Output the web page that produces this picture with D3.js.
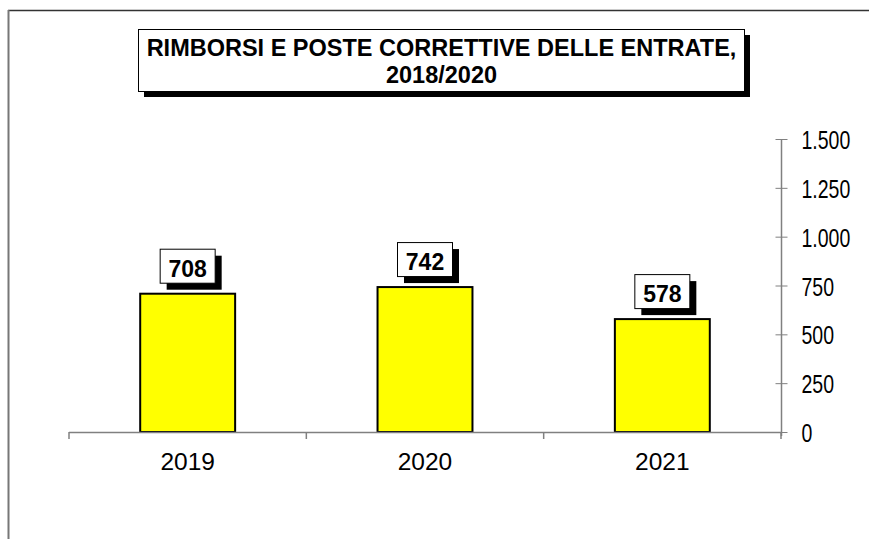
<!DOCTYPE html>
<html>
<head>
<meta charset="utf-8">
<script src="https://cdn.jsdelivr.net/npm/d3@7"></script>
<style>
  body { margin: 0; background: #fff; }
  svg { display: block; font-family: Arial, "Liberation Sans", sans-serif; }
</style>
</head>
<body>
<div id="vis"></div>
<script>
// chart data
var years = ['2019', '2020', '2021'];
var values = [708, 742, 578];
var yTicks = [0, 250, 500, 750, 1000, 1250, 1500];
var titleLines = ['RIMBORSI E POSTE CORRETTIVE DELLE ENTRATE,', '2018/2020'];

var width = 869, height = 539;

var svg = d3.select('#vis').append('svg')
  .attr('width', width)
  .attr('height', height);

// outer frame (top + left only visible)
svg.append('line').attr('x1', 8).attr('y1', 10.5).attr('x2', width).attr('y2', 10.5)
  .attr('stroke', '#333').attr('stroke-width', 1.5);
svg.append('line').attr('x1', 8.5).attr('y1', 10).attr('x2', 8.5).attr('y2', height)
  .attr('stroke', '#777').attr('stroke-width', 2);

var x = d3.scaleBand().domain(years).range([69, 781]).paddingInner(0).paddingOuter(0);
var y = d3.scaleLinear().domain([0, 1500]).range([432, 139]);

// bars
var barW = x.bandwidth() * 0.4;
svg.selectAll('.bar').data(values).enter().append('rect')
  .attr('class', 'bar')
  .attr('x', function (d, i) { return x(years[i]) + (x.bandwidth() - barW) / 2; })
  .attr('y', function (d) { return y(d); })
  .attr('width', barW)
  .attr('height', function (d) { return y(0) - y(d); })
  .attr('fill', '#ffff00')
  .attr('stroke', '#000')
  .attr('stroke-width', 2);

// x axis
svg.append('line').attr('x1', 69).attr('x2', 781).attr('y1', 432.5).attr('y2', 432.5)
  .attr('stroke', '#808080').attr('stroke-width', 1.5);
var xTickPos = years.map(function (d) { return x(d); }).concat([x.range()[1]]);
svg.selectAll('.xtick').data(xTickPos).enter().append('line')
  .attr('x1', function (d) { return d; }).attr('x2', function (d) { return d; })
  .attr('y1', 432).attr('y2', 439)
  .attr('stroke', '#808080').attr('stroke-width', 1.5);
svg.selectAll('.xlab').data(years).enter().append('text')
  .attr('x', function (d) { return x(d) + x.bandwidth() / 2; })
  .attr('y', 470)
  .attr('text-anchor', 'middle')
  .attr('font-size', 24.5)
  .attr('fill', '#000')
  .text(function (d) { return d; });

// y axis on the right
var fmt = function (d) { return d3.format(',')(d).replace(/,/g, '.'); };
var yAxis = svg.append('g').attr('transform', 'translate(781.5,0)');
yAxis.append('line').attr('x1', 0).attr('x2', 0).attr('y1', y(1500)).attr('y2', y(0) + 4)
  .attr('stroke', '#808080').attr('stroke-width', 1.5);
yAxis.selectAll('.ytick').data(yTicks).enter().append('line')
  .attr('x1', -6).attr('x2', 6)
  .attr('y1', function (d) { return y(d) + 0.5; })
  .attr('y2', function (d) { return y(d) + 0.5; })
  .attr('stroke', '#808080').attr('stroke-width', 1);
// tick labels are tall and narrow in the original
yAxis.selectAll('.ylab').data(yTicks).enter().append('text')
  .attr('transform', function (d) { return 'translate(20,' + (y(d) + 10) + ') scale(0.75,1)'; })
  .attr('font-size', 26)
  .attr('fill', '#000')
  .text(fmt);

// value labels with shadow boxes
var lab = svg.selectAll('.vlab').data(values).enter().append('g')
  .attr('transform', function (d, i) {
    return 'translate(' + (x(years[i]) + x.bandwidth() / 2) + ',' + (y(d) - 10) + ')';
  });
lab.append('rect').attr('x', -21).attr('y', -28).attr('width', 55).attr('height', 34)
  .attr('fill', '#000');
lab.append('rect').attr('x', -27.5).attr('y', -34.5).attr('width', 55).attr('height', 34)
  .attr('fill', '#fff').attr('stroke', '#000').attr('stroke-width', 1);
lab.append('text')
  .attr('x', 0).attr('y', -7)
  .attr('text-anchor', 'middle')
  .attr('font-size', 23).attr('font-weight', 'bold')
  .attr('fill', '#000')
  .text(function (d) { return d; });

// title box
var tb = svg.append('g');
tb.append('rect').attr('x', 144).attr('y', 35).attr('width', 606).attr('height', 62).attr('fill', '#000');
tb.append('rect').attr('x', 138.5).attr('y', 29.5).attr('width', 606).attr('height', 62)
  .attr('fill', '#fff').attr('stroke', '#000').attr('stroke-width', 1);
tb.selectAll('text').data(titleLines).enter().append('text')
  .attr('x', 441.5)
  .attr('y', function (d, i) { return 56 + i * 27; })
  .attr('text-anchor', 'middle')
  .attr('font-size', 23.5).attr('font-weight', 'bold')
  .attr('fill', '#000')
  .text(function (d) { return d; });
</script>
</body>
</html>
